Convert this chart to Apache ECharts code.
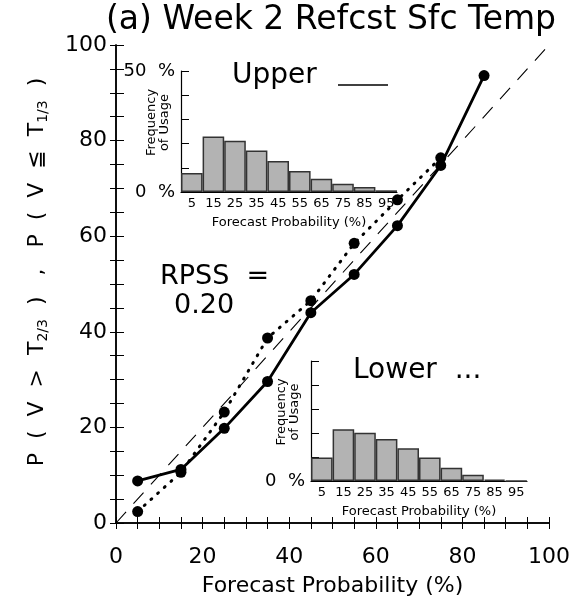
<!DOCTYPE html>
<html>
<head>
<meta charset="utf-8">
<script src="https://cdn.jsdelivr.net/npm/echarts@6/dist/echarts.min.js"></script>
<style>
  html, body { margin: 0; padding: 0; background: #fff; }
  #chart { width: 580px; height: 602px; }
</style>
</head>
<body>
<div id="chart"></div>
<script>
// reliability points (forecast prob bin centre -> observed frequency, %)
const probBins = [5, 15, 25, 35, 45, 55, 65, 75, 85];
const upperObs = [8.8, 11.2, 19.8, 29.6, 44.0, 52.0, 62.2, 74.8, 93.6];
const lowerObs = [2.4, 10.6, 23.2, 38.7, 46.5, 58.5, 67.6, 76.4];
const diagonal = [0, 100];

// frequency of usage histograms (%)
const histLabels = ['5', '15', '25', '35', '45', '55', '65', '75', '85', '95'];
const upperFreq = [7.9, 22.9, 21.2, 17.2, 12.8, 8.7, 5.5, 3.4, 2.1, 0.7];
const lowerFreq = [9.8, 21.6, 20.1, 17.5, 13.6, 9.8, 5.5, 2.6, 0.6, 0.1];

const FONT = 'DejaVu Sans';

function pairs(xs, ys) {
  return ys.map((y, i) => [xs[i], y]);
}

let myChart = echarts.init(document.getElementById('chart'));

function ticks(len) {
  return { show: true, inside: true, length: len, lineStyle: { color: '#000', width: 1 } };
}
function minor(len) {
  return { show: true, splitNumber: 4, length: len, lineStyle: { color: '#000', width: 1 } };
}
const mainLine = { show: true, lineStyle: { color: '#000', width: 1.5 } };

function insetX(gridIndex) {
  return {
    gridIndex: gridIndex,
    type: 'category',
    data: histLabels,
    boundaryGap: true,
    axisLine: { show: true, lineStyle: { color: '#000', width: 1.2 } },
    axisTick: { show: false },
    splitLine: { show: false },
    axisLabel: { color: '#000', fontFamily: FONT, fontSize: 13, margin: 5, interval: 0 },
    name: 'Forecast Probability (%)',
    nameLocation: 'middle',
    nameGap: 24,
    nameMoveOverlap: false,
    nameTextStyle: { color: '#000', fontFamily: FONT, fontSize: 13 }
  };
}

function insetY(gridIndex, showTop) {
  return {
    gridIndex: gridIndex,
    type: 'value',
    min: 0,
    max: 50,
    interval: 10,
    axisLine: { show: true, lineStyle: { color: '#000', width: 1.2 } },
    axisTick: { show: true, inside: true, length: 8, lineStyle: { color: '#000' } },
    splitLine: { show: false },
    axisLabel: {
      color: '#000', fontFamily: FONT, fontSize: 18, margin: 6,
      formatter: function (v) {
        if (v === 0) return '0  %';
        if (v === 50 && showTop) return '50  %';
        return '';
      }
    },
    name: 'Frequency\nof Usage',
    nameLocation: 'middle',
    nameRotate: 90,
    nameGap: 10,
    nameMoveOverlap: false,
    nameTextStyle: { color: '#000', fontFamily: FONT, fontSize: 13, lineHeight: 13, padding: [0, 0, 0, 18] }
  };
}

myChart.setOption({
  animation: false,
  backgroundColor: '#fff',
  grid: [
    { left: 116, top: 45, width: 433, height: 484 },
    { left: 181, top: 71, width: 216, height: 121 },
    { left: 311, top: 361, width: 216, height: 120 }
  ],
  xAxis: [
    {
      gridIndex: 0, type: 'value', min: 0, max: 100, interval: 20, position: 'bottom',
      axisLine: mainLine, axisTick: ticks(6), minorTick: minor(6),
      splitLine: { show: false },
      axisLabel: { color: '#000', fontFamily: FONT, fontSize: 22, margin: 23 },
      name: 'Forecast Probability (%)',
      nameLocation: 'middle',
      nameGap: 52,
      nameMoveOverlap: false,
      nameTextStyle: { color: '#000', fontFamily: FONT, fontSize: 22 }
    },
    {
      gridIndex: 0, type: 'value', min: 0, max: 100, interval: 20, position: 'top',
      axisLine: mainLine, axisTick: ticks(6), minorTick: minor(6),
      splitLine: { show: false }, axisLabel: { show: false }
    },
    insetX(1),
    insetX(2)
  ],
  yAxis: [
    {
      gridIndex: 0, type: 'value', min: 0, max: 100, interval: 20, position: 'left',
      axisLine: mainLine, axisTick: ticks(8), minorTick: minor(8),
      splitLine: { show: false },
      axisLabel: { color: '#000', fontFamily: FONT, fontSize: 22, margin: 9 },
      name: '{a|P  (  V  >  T}{s|2/3}{a|  )   ,   P  (  V  ≦  T}{s|1/3}{a|  )}',
      nameLocation: 'middle',
      nameRotate: 90,
      nameGap: 66,
      nameMoveOverlap: false,
      nameTextStyle: {
        color: '#000',
        padding: [0, 0, 0, 24],
        rich: {
          a: { fontFamily: FONT, fontSize: 22, color: '#000', lineHeight: 26 },
          s: { fontFamily: FONT, fontSize: 14, color: '#000', verticalAlign: 'bottom', lineHeight: 26, padding: [8, 0, 0, 0] }
        }
      }
    },
    {
      gridIndex: 0, type: 'value', min: 0, max: 100, interval: 20, position: 'right',
      axisLine: mainLine, axisTick: ticks(6), minorTick: minor(6),
      splitLine: { show: false }, axisLabel: { show: false }
    },
    insetY(1, true),
    insetY(2, false)
  ],
  series: [
    {
      name: 'perfect',
      type: 'line',
      xAxisIndex: 0, yAxisIndex: 0,
      data: pairs(diagonal, diagonal),
      symbol: 'none',
      lineStyle: { color: '#000', width: 1.1, type: [15, 11] },
      z: 2
    },
    {
      name: 'Upper',
      type: 'line',
      xAxisIndex: 0, yAxisIndex: 0,
      data: pairs(probBins, upperObs),
      symbol: 'circle',
      symbolSize: 11,
      itemStyle: { color: '#000' },
      lineStyle: { color: '#000', width: 2.8 },
      z: 3
    },
    {
      name: 'Lower',
      type: 'line',
      xAxisIndex: 0, yAxisIndex: 0,
      data: pairs(probBins, lowerObs),
      symbol: 'circle',
      symbolSize: 11,
      itemStyle: { color: '#000' },
      lineStyle: { color: '#000', width: 3, type: [1, 8], cap: 'round' },
      z: 3
    },
    {
      name: 'Upper usage',
      type: 'bar',
      xAxisIndex: 2, yAxisIndex: 2,
      data: upperFreq,
      barCategoryGap: '0%',
      itemStyle: { color: '#b3b3b3', borderColor: '#333', borderWidth: 1.5 },
      z: 4
    },
    {
      name: 'Lower usage',
      type: 'bar',
      xAxisIndex: 3, yAxisIndex: 3,
      data: lowerFreq,
      barCategoryGap: '0%',
      itemStyle: { color: '#b3b3b3', borderColor: '#333', borderWidth: 1.5 },
      z: 4
    }
  ],
  graphic: [
    {
      type: 'text', x: 331, y: 4,
      style: { text: '(a) Week 2 Refcst Sfc Temp', textAlign: 'center', fontFamily: FONT, fontSize: 33, fill: '#000' }
    },
    {
      type: 'text', left: 232, top: 62,
      style: { text: 'Upper', fontFamily: FONT, fontSize: 28, fill: '#000' }
    },
    {
      type: 'line', shape: { x1: 338, y1: 85, x2: 388, y2: 85 },
      style: { stroke: '#000', lineWidth: 1.5 }
    },
    {
      type: 'text', left: 353, top: 357,
      style: { text: 'Lower  ...', fontFamily: FONT, fontSize: 28, fill: '#000' }
    },
    {
      type: 'text', left: 160, top: 263,
      style: { text: 'RPSS  =', fontFamily: FONT, fontSize: 27, fill: '#000' }
    },
    {
      type: 'text', left: 174, top: 292,
      style: { text: '0.20', fontFamily: FONT, fontSize: 27, fill: '#000' }
    }
  ]
});
</script>
</body>
</html>
